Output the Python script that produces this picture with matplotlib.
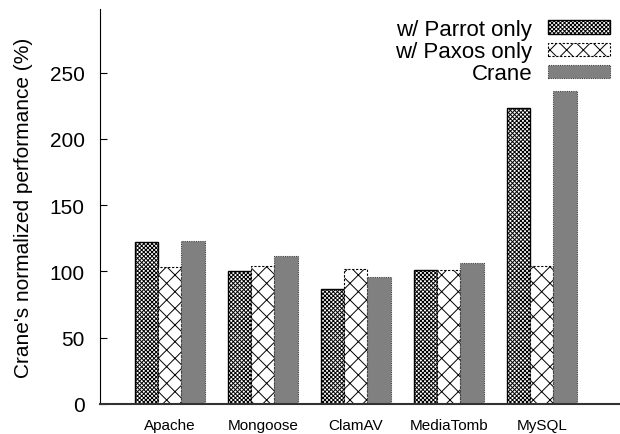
import numpy as np
import matplotlib
matplotlib.use("Agg")
import matplotlib.pyplot as plt

plt.rcParams['font.family'] = ['Liberation Sans', 'DejaVu Sans']
plt.rcParams['hatch.linewidth'] = 0.7

apps = ["Apache", "Mongoose", "ClamAV", "MediaTomb", "MySQL"]
parrot_only = [122, 100, 87, 101, 223]
paxos_only = [103, 104, 102, 101, 104]
crane = [123, 112, 96, 106, 236]

fig = plt.figure(figsize=(6.2, 4.35), dpi=100)
ax = fig.add_axes([100 / 620, 30 / 435, 520 / 620, 395 / 435])

x = np.arange(len(apps))
w = 0.25

ax.bar(x - w, parrot_only, w, facecolor="white", edgecolor="black", hatch="xxxxxxxx",
       linewidth=1.0, label="w/ Parrot only")
ax.bar(x, paxos_only, w, facecolor="white", edgecolor="black", hatch="xx",
       linewidth=0.8, linestyle=(0, (2, 1.5)), label="w/ Paxos only")
ax.bar(x + w, crane, w, facecolor="#808080", edgecolor="#404040",
       linewidth=0.8, linestyle=(0, (1, 1)), label="Crane")

ax.set_xlim(-0.75, 4.84)
ax.set_ylim(0, 298)
ax.set_yticks([0, 50, 100, 150, 200, 250])
ax.set_xticks(x)
ax.set_xticklabels(apps, fontsize=11)
ax.tick_params(axis="y", labelsize=15, direction="in", length=5, pad=11)
ax.tick_params(axis="x", length=0, pad=10)
ax.set_ylabel("Crane's normalized performance (%)", fontsize=15, labelpad=12)
ax.spines["bottom"].set_color("#333333")
ax.spines["bottom"].set_linewidth(1.5)

ax.spines["top"].set_visible(False)
ax.spines["right"].set_visible(False)

ax.legend(loc="upper right", frameon=False, markerfirst=False, fontsize=16,
          handlelength=2.8, handleheight=0.55, labelspacing=0.05,
          borderaxespad=0.3, borderpad=0.15, handletextpad=0.7)

fig.savefig("out.png", dpi=100)
